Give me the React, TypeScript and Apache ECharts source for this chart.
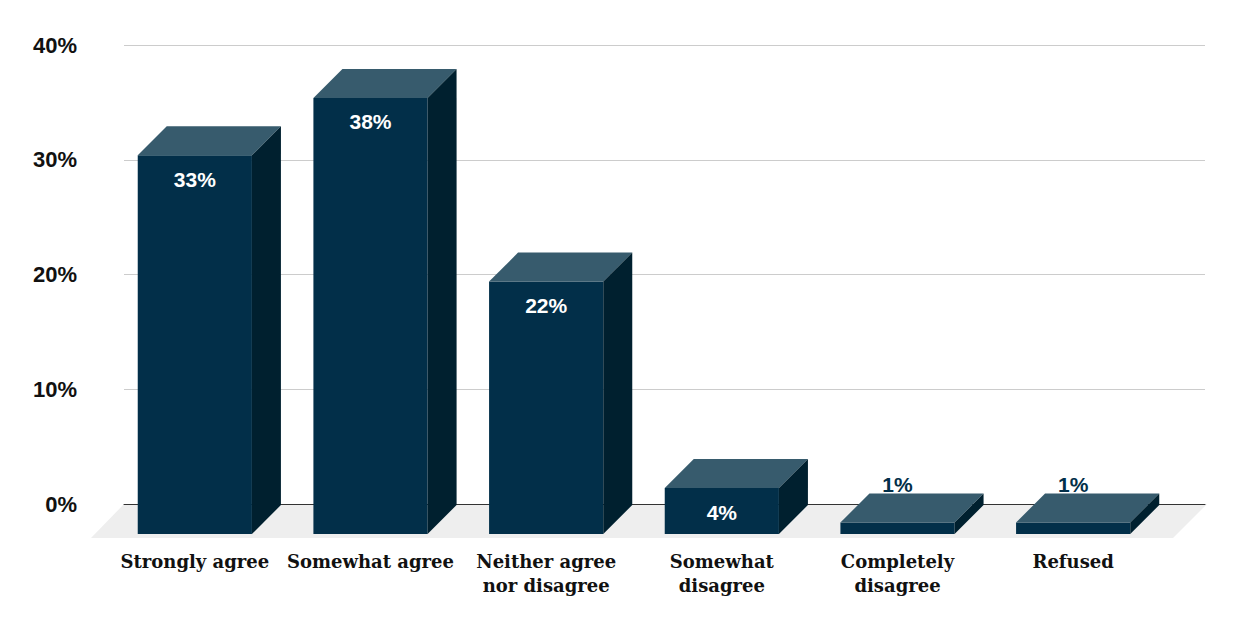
import { useEffect, useRef } from "react"
import * as echarts from "echarts"

const categories = [
  "Strongly agree",
  "Somewhat agree",
  "Neither agree\nnor disagree",
  "Somewhat\ndisagree",
  "Completely\ndisagree",
  "Refused",
]
const shares = [33, 38, 22, 4, 1, 1]
const yTicks = [0, 10, 20, 30, 40]

const FRONT = "#022f49"
const TOP = "#375b6d"
const SIDE = "#00202f"
const DEPTH = 29
const DROP = 30

export default function App() {
  const chartRef = useRef<HTMLDivElement>(null)

  useEffect(() => {
    document.body.style.margin = "0"
    if (!chartRef.current) return
    const chart = echarts.init(chartRef.current, undefined, { renderer: "svg" })

    const yMax = yTicks[yTicks.length - 1]

    const option: echarts.EChartsOption = {
      animation: false,
      grid: [
        { left: 124, right: 33, top: 45, bottom: 124 },
        { left: 107, right: 77, top: 45, bottom: 124 },
      ],
      graphic: [
        {
          type: "polygon",
          z: -10,
          shape: { points: [[124, 504], [1207, 504], [1173, 538], [91, 538]] },
          style: { fill: "#eeeeee" },
        },
      ],
      xAxis: [
        {
          type: "category",
          gridIndex: 0,
          data: categories,
          axisLine: { show: true, lineStyle: { color: "#333", width: 1 } },
          axisTick: { show: false },
          axisLabel: { show: false },
        },
        {
          type: "category",
          gridIndex: 1,
          data: categories,
          axisLine: { show: false },
          axisTick: { show: false },
          axisLabel: {
            margin: 45,
            color: "#111",
            fontFamily: "DejaVu Serif",
            fontWeight: "bold",
            fontSize: 18,
            lineHeight: 24,
            interval: 0,
          },
        },
      ],
      yAxis: [
        {
          type: "value",
          gridIndex: 0,
          min: 0,
          max: yMax,
          interval: 10,
          axisLine: { show: false },
          axisTick: { show: false },
          splitLine: { lineStyle: { color: "#cccccc", width: 1 } },
          axisLabel: {
            formatter: "{value}%",
            margin: 47,
            color: "#111",
            fontFamily: "Liberation Sans",
            fontWeight: "bold",
            fontSize: 22,
          },
        },
        {
          type: "value",
          gridIndex: 1,
          min: 0,
          max: yMax,
          show: false,
        },
      ],
      series: [
        {
          type: "custom",
          xAxisIndex: 1,
          yAxisIndex: 1,
          data: shares.map((v, i) => [i, v]),
          renderItem: (params: any, api: any) => {
            const idx = api.value(0)
            const val = api.value(1)
            const [cx, y0] = api.coord([idx, 0])
            const [, yv] = api.coord([idx, val])
            const w = api.size([1, 0])[0] * 0.65
            const xl = cx - w / 2
            const xr = cx + w / 2
            const top = yv + DROP
            const bottom = y0 + DROP
            const inside = bottom - top > 40
            return {
              type: "group",
              children: [
                {
                  type: "rect",
                  shape: { x: xl, y: top, width: w, height: bottom - top },
                  style: { fill: FRONT },
                },
                {
                  type: "polygon",
                  shape: {
                    points: [
                      [xl, top],
                      [xl + DEPTH, top - DEPTH],
                      [xr + DEPTH, top - DEPTH],
                      [xr, top],
                    ],
                  },
                  style: { fill: TOP },
                },
                {
                  type: "polygon",
                  shape: {
                    points: [
                      [xr, top],
                      [xr + DEPTH, top - DEPTH],
                      [xr + DEPTH, bottom - DEPTH],
                      [xr, bottom],
                    ],
                  },
                  style: { fill: SIDE },
                },
                {
                  type: "text",
                  x: cx,
                  y: inside ? top + 24 : top - DEPTH + 1,
                  style: {
                    text: val + "%",
                    fill: inside ? "#ffffff" : FRONT,
                    font: "bold 21px 'Liberation Sans'",
                    align: "center",
                    verticalAlign: inside ? "middle" : "bottom",
                  },
                },
              ],
            }
          },
        },
      ],
    }

    chart.setOption(option)
    return () => chart.dispose()
  }, [])

  return <div ref={chartRef} style={{ width: 1238, height: 628 }} />
}
